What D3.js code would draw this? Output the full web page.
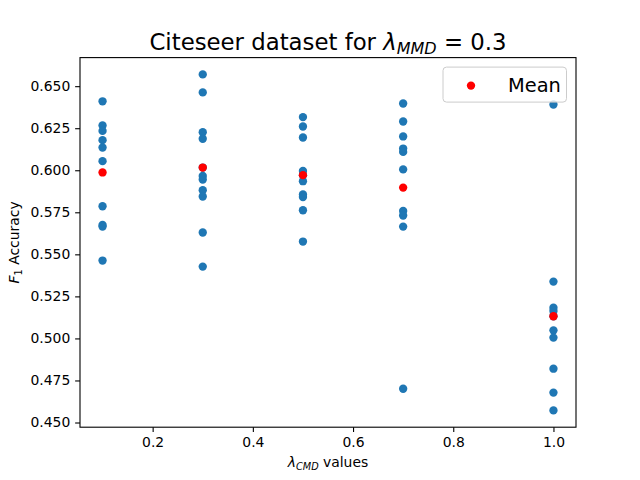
<!DOCTYPE html>
<html>
<head>
<meta charset="utf-8">
<script src="https://cdnjs.cloudflare.com/ajax/libs/d3/7.8.5/d3.min.js"></script>
<style>
  body { margin: 0; background: white; }
  text { font-family: 'DejaVu Sans', sans-serif; }
</style>
</head>
<body>
<div id="chart"></div>
<script>
// lambda_CMD values, one column of runs each
var lambdas = [0.1, 0.3, 0.5, 0.7, 1.0]

var runs01 = [0.641, 0.6266, 0.6234, 0.6179, 0.6135, 0.6054, 0.5786, 0.5675, 0.5665, 0.5463]
var runs03 = [0.657, 0.6463, 0.6226, 0.6187, 0.6016, 0.5966, 0.5945, 0.5881, 0.5844, 0.563, 0.5427]
var runs05 = [0.6316, 0.626, 0.6195, 0.5996, 0.5971, 0.5935, 0.5856, 0.5841, 0.5762, 0.5576]
var runs07 = [0.6397, 0.629, 0.6201, 0.6129, 0.6109, 0.6005, 0.5758, 0.5731, 0.5665, 0.4701]
var runs10 = [0.6391, 0.5338, 0.5183, 0.5163, 0.5132, 0.5048, 0.5005, 0.482, 0.4678, 0.4572]

var means = [0.5987, 0.6016, 0.5971, 0.5897, 0.5132]

var xTicks = [0.2, 0.4, 0.6, 0.8, 1.0]
var yTicks = [0.450, 0.475, 0.500, 0.525, 0.550, 0.575, 0.600, 0.625, 0.650]

var allRuns = [runs01, runs03, runs05, runs07, runs10]
var points = []
allRuns.forEach(function (col, i) {
  col.forEach(function (v) { points.push({ x: lambdas[i], y: v }) })
})
var meanPoints = means.map(function (v, i) { return { x: lambdas[i], y: v } })

var width = 640
var height = 480
var margin = { top: 57.6, right: 64, bottom: 52.8, left: 80 }

var svg = d3.select('#chart').append('svg')
  .attr('width', width)
  .attr('height', height)

// matplotlib-style 5% padding around the data
var xMin = d3.min(lambdas), xMax = d3.max(lambdas)
var xPad = (xMax - xMin) * 0.05
var yMin = d3.min(points, d => d.y), yMax = d3.max(points, d => d.y)
var yPad = (yMax - yMin) * 0.05

var x = d3.scaleLinear()
  .domain([xMin - xPad, xMax + xPad])
  .range([margin.left, width - margin.right])

var y = d3.scaleLinear()
  .domain([yMin - yPad, yMax + yPad])
  .range([height - margin.bottom, margin.top])

var tickLen = 4.86

svg.append('g')
  .attr('transform', `translate(0,${height - margin.bottom})`)
  .call(d3.axisBottom(x).tickValues(xTicks).tickFormat(d3.format('.1f'))
    .tickSizeOuter(0).tickSize(tickLen).tickPadding(4.86))
  .call(g => g.select('.domain').remove())
  .attr('font-family', 'DejaVu Sans')
  .attr('font-size', '13.9px')
  .call(g => g.selectAll('line').attr('stroke', 'black').attr('stroke-width', 1.1))
  .call(g => g.selectAll('text').attr('fill', 'black'))

svg.append('g')
  .attr('transform', `translate(${margin.left},0)`)
  .call(d3.axisLeft(y).tickValues(yTicks).tickFormat(d3.format('.3f'))
    .tickSizeOuter(0).tickSize(tickLen).tickPadding(4.86))
  .call(g => g.select('.domain').remove())
  .attr('font-family', 'DejaVu Sans')
  .attr('font-size', '13.9px')
  .call(g => g.selectAll('line').attr('stroke', 'black').attr('stroke-width', 1.1))
  .call(g => g.selectAll('text').attr('fill', 'black'))

// scatter of all runs
svg.append('g')
  .attr('fill', '#1f77b4')
  .selectAll('circle')
  .data(points)
  .enter()
  .append('circle')
  .attr('cx', d => x(d.x))
  .attr('cy', d => y(d.y))
  .attr('r', 4.17)

// means on top
svg.append('g')
  .attr('fill', 'red')
  .selectAll('circle')
  .data(meanPoints)
  .enter()
  .append('circle')
  .attr('cx', d => x(d.x))
  .attr('cy', d => y(d.y))
  .attr('r', 4.17)

// frame
svg.append('rect')
  .attr('x', margin.left)
  .attr('y', margin.top)
  .attr('width', width - margin.left - margin.right)
  .attr('height', height - margin.top - margin.bottom)
  .attr('fill', 'none')
  .attr('stroke', 'black')
  .attr('stroke-width', 1.1)

// legend
var lg = svg.append('g')
  .attr('transform', `translate(${width - margin.right - 133},${margin.top + 9.5})`)
lg.append('rect')
  .attr('width', 123.5)
  .attr('height', 35)
  .attr('rx', 3.5)
  .attr('fill', 'white')
  .attr('fill-opacity', 0.8)
  .attr('stroke', '#cccccc')
  .attr('stroke-width', 1)
lg.append('circle')
  .attr('cx', 28)
  .attr('cy', 18.5)
  .attr('r', 4.17)
  .attr('fill', 'red')
lg.append('text')
  .attr('x', 65)
  .attr('y', 25)
  .attr('font-size', '19.4px')
  .text('Mean')

// title
var title = svg.append('text')
  .attr('x', (margin.left + width - margin.right) / 2)
  .attr('y', 49.5)
  .attr('text-anchor', 'middle')
  .attr('font-size', '22.8px')
title.append('tspan').text('Citeseer dataset for ')
title.append('tspan').attr('font-style', 'italic').text('λ')
title.append('tspan').attr('font-style', 'italic').attr('font-size', '16px').attr('dy', 4).text('MMD')
title.append('tspan').attr('dy', -4).text(' = 0.3')

// x label
var xl = svg.append('text')
  .attr('x', (margin.left + width - margin.right) / 2)
  .attr('y', 467)
  .attr('text-anchor', 'middle')
  .attr('font-size', '13.9px')
xl.append('tspan').attr('font-style', 'italic').text('λ')
xl.append('tspan').attr('font-style', 'italic').attr('font-size', '9.7px').attr('dy', 2.5).text('CMD')
xl.append('tspan').attr('dy', -2.5).text(' values')

// y label
var yl = svg.append('text')
  .attr('transform', `translate(19,${(margin.top + height - margin.bottom) / 2}) rotate(-90)`)
  .attr('text-anchor', 'middle')
  .attr('font-size', '13.9px')
yl.append('tspan').attr('font-style', 'italic').text('F')
yl.append('tspan').attr('font-size', '9.7px').attr('dy', 2.5).text('1')
yl.append('tspan').attr('dy', -2.5).text(' Accuracy')
</script>
</body>
</html>
